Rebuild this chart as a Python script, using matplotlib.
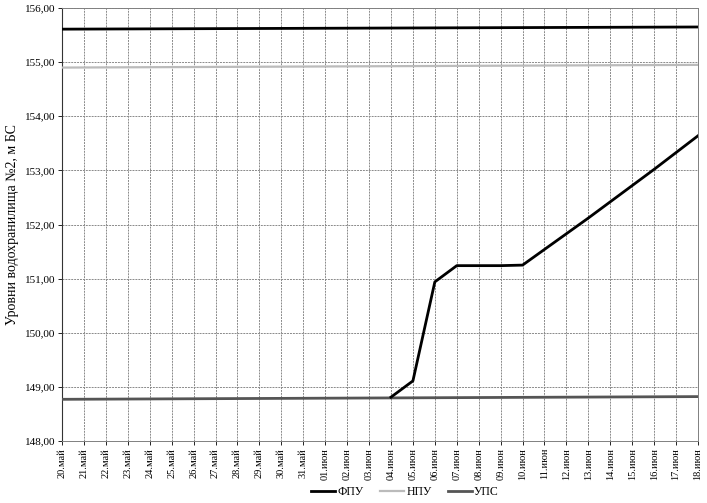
import numpy as np
import matplotlib
matplotlib.use("Agg")
import matplotlib.pyplot as plt
from matplotlib.ticker import FuncFormatter

# dates on x axis
dates = ["20.май", "21.май", "22.май", "23.май", "24.май", "25.май", "26.май",
         "27.май", "28.май", "29.май", "30.май", "31.май", "01.июн", "02.июн",
         "03.июн", "04.июн", "05.июн", "06.июн", "07.июн", "08.июн", "09.июн",
         "10.июн", "11.июн", "12.июн", "13.июн", "14.июн", "15.июн", "16.июн",
         "17.июн", "18.июн"]

# flat levels, value at first and last date
fpu_ends = [155.61, 155.65]
npu_ends = [154.90, 154.95]
ups_ends = [148.77, 148.82]

# actual level curve from 04.июн to 18.июн
level_start = 15
level = [148.81, 149.11, 150.94, 151.24, 151.24, 151.24, 151.25, 151.54,
         151.83, 152.12, 152.42, 152.72, 153.02, 153.33, 153.64]

plt.rcParams["font.family"] = ["Liberation Serif", "DejaVu Serif"]

fig = plt.figure(figsize=(7.07, 5.03), dpi=100)
ax = fig.add_axes([0.0877, 0.1233, 0.8996, 0.8607])

x = np.arange(len(dates))
ends = [x[0], x[-1]]

ax.plot(ends, fpu_ends, color="black", lw=2.0, label="ФПУ", zorder=4)
ax.plot(ends, npu_ends, color="#bbbbbb", lw=1.6, label="НПУ", zorder=3)
ax.plot(ends, ups_ends, color="#555555", lw=2.0, label="УПС", zorder=3)
ax.plot(x[level_start:level_start + len(level)], level, color="black",
        lw=2.0, zorder=5)

ax.set_xlim(x[0], x[-1])
ax.set_ylim(148, 156)
ax.set_yticks(np.arange(148, 157, 1))
ax.yaxis.set_major_formatter(FuncFormatter(lambda v, p: f"{v:.2f}".replace(".", ",")))
ax.set_xticks(x)
ax.set_xticklabels(dates, rotation=90, fontsize=7.5)
ax.tick_params(axis="y", labelsize=8, length=3, width=0.6, pad=2)
ax.tick_params(axis="x", length=3, width=0.6, pad=2)

ax.grid(True, color="#8a8a8a", lw=0.7, linestyle=(0, (2, 1)))
for side in ["top", "right", "bottom"]:
    ax.spines[side].set_color("#808080")
    ax.spines[side].set_linewidth(0.7)
ax.spines["left"].set_color("#333333")
ax.spines["left"].set_linewidth(0.8)

ax.set_ylabel("Уровни водохранилища №2, м БС", fontsize=10, labelpad=4)

fig.legend(loc="lower center", bbox_to_anchor=(0.573, -0.012), ncol=3,
           frameon=False, fontsize=8.5, handlelength=2.0, handletextpad=0.2,
           columnspacing=1.4)

fig.savefig("out.png", dpi=100)
